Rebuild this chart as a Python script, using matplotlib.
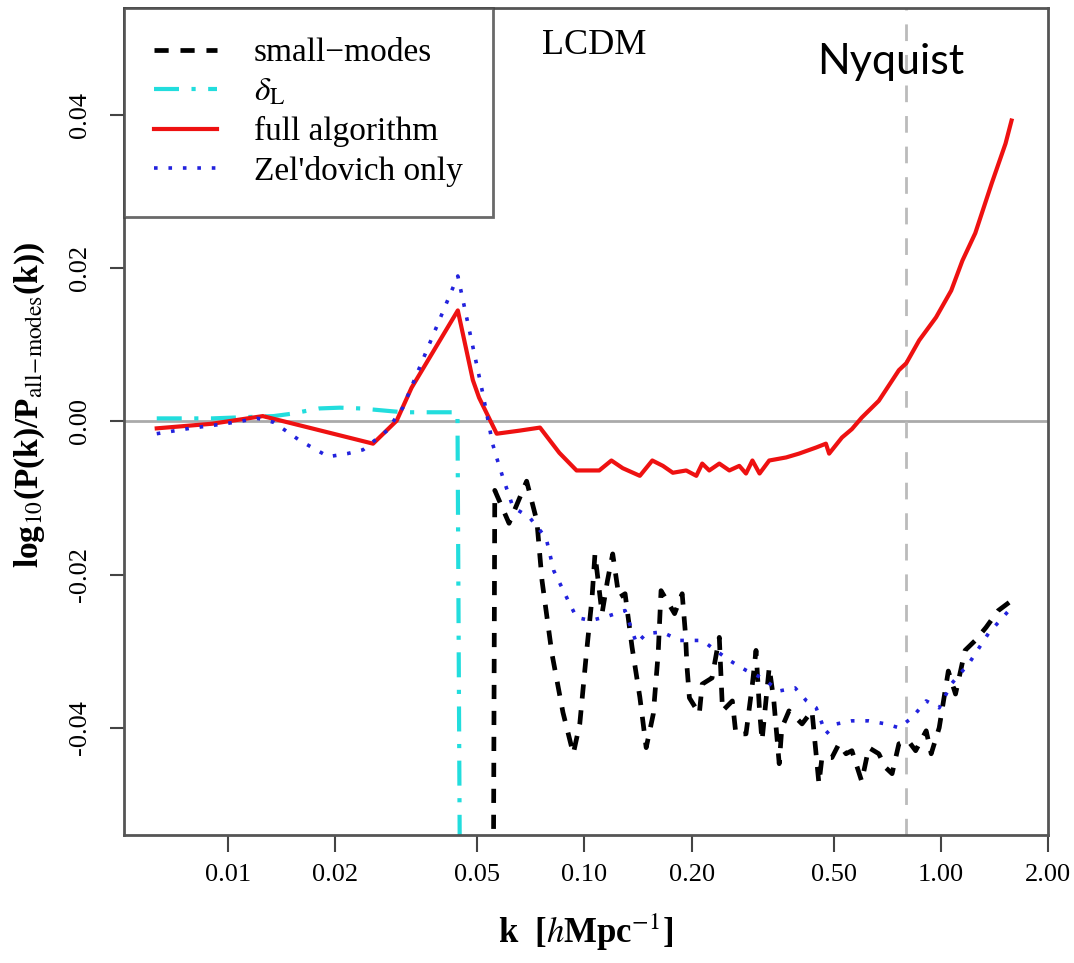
import matplotlib
matplotlib.use('Agg')
import matplotlib.pyplot as plt

plt.rcParams['font.family'] = ['Liberation Serif', 'DejaVu Serif']
plt.rcParams['mathtext.fontset'] = 'stix'

# full algorithm
k_full = [0.0063, 0.0090, 0.0125, 0.0255, 0.0297, 0.0327, 0.0441, 0.0486, 0.0506, 0.0567,
          0.0657, 0.075, 0.085, 0.095, 0.110, 0.119, 0.128, 0.143, 0.155, 0.166,
          0.177, 0.193, 0.206, 0.214, 0.224, 0.239, 0.255, 0.272, 0.284, 0.296,
          0.31, 0.33, 0.368, 0.40, 0.447, 0.476, 0.486, 0.528, 0.563, 0.60,
          0.67, 0.763, 0.80, 0.87, 0.97, 1.07, 1.15, 1.25, 1.39, 1.52, 1.58]
y_full = [-0.0009, -0.0003, 0.0007, -0.0029, 0.0001, 0.0044, 0.0145, 0.0054, 0.0031, -0.0016,
          -0.0012, -0.0008, -0.0041, -0.0064, -0.0064, -0.0051, -0.0061, -0.0071, -0.0051, -0.0058,
          -0.0067, -0.0064, -0.0071, -0.0055, -0.0064, -0.0055, -0.0064, -0.0058, -0.0068, -0.0051,
          -0.0068, -0.0051, -0.0047, -0.0042, -0.0034, -0.0029, -0.0042, -0.0021, -0.0010, 0.0005,
          0.0027, 0.0067, 0.0076, 0.0106, 0.0136, 0.0171, 0.0210, 0.0246, 0.0311, 0.0363, 0.0393]

# Zel'dovich only
k_zel = [0.0063, 0.0078, 0.0098, 0.0121, 0.0134, 0.0159, 0.0191, 0.0216, 0.0239, 0.0279,
         0.0309, 0.0441, 0.0518, 0.0552, 0.057, 0.059, 0.063, 0.070, 0.078, 0.082,
         0.090, 0.095, 0.104, 0.115, 0.130, 0.140, 0.149, 0.165, 0.185, 0.214,
         0.255, 0.284, 0.315, 0.352, 0.39, 0.42, 0.447, 0.476, 0.51, 0.563,
         0.628, 0.70, 0.763, 0.83, 0.91, 0.99, 1.07, 1.20, 1.36, 1.58]
y_zel = [-0.0016, -0.0009, -0.0003, 0.0004, -0.0001, -0.0025, -0.0046, -0.0042, -0.0037, -0.0012,
         0.0018, 0.0190, 0.0037, -0.0029, -0.0051, -0.0073, -0.0112, -0.0125, -0.0152, -0.0195,
         -0.0234, -0.0256, -0.0260, -0.0255, -0.0247, -0.0290, -0.0277, -0.0275, -0.0286, -0.0286,
         -0.0312, -0.0325, -0.0335, -0.0352, -0.0348, -0.0365, -0.0374, -0.0408, -0.0395, -0.0391,
         -0.0391, -0.0395, -0.0400, -0.0387, -0.0365, -0.0374, -0.0343, -0.0316, -0.0277, -0.0243]

# small-modes
k_small = [0.0555, 0.0560, 0.0614, 0.0688, 0.0735, 0.076, 0.081, 0.087, 0.093, 0.097,
           0.101, 0.105, 0.107, 0.112, 0.116, 0.120, 0.125, 0.130, 0.136, 0.143,
           0.149, 0.156, 0.161, 0.164, 0.179, 0.188, 0.192, 0.194, 0.197, 0.210,
           0.214, 0.228, 0.239, 0.244, 0.26, 0.266, 0.284, 0.296, 0.303, 0.31,
           0.315, 0.33, 0.34, 0.352, 0.358, 0.375, 0.408, 0.435, 0.455, 0.464,
           0.495, 0.518, 0.542, 0.563, 0.60, 0.628, 0.67, 0.70, 0.73, 0.763,
           0.81, 0.85, 0.91, 0.94, 0.99, 1.05, 1.10, 1.17, 1.25, 1.34,
           1.45, 1.58]
y_small = [-0.060, -0.0090, -0.0133, -0.0078, -0.0130, -0.0208, -0.0303, -0.0380, -0.0434, -0.0395,
           -0.0308, -0.0230, -0.0173, -0.0251, -0.0208, -0.0173, -0.0230, -0.0225, -0.0295, -0.0360,
           -0.0426, -0.0382, -0.0303, -0.0221, -0.0251, -0.0225, -0.0277, -0.0321, -0.0361, -0.0382,
           -0.0343, -0.0335, -0.0282, -0.0378, -0.0365, -0.0408, -0.0408, -0.0343, -0.0299, -0.0378,
           -0.0417, -0.0321, -0.0365, -0.0447, -0.0400, -0.0378, -0.0395, -0.0378, -0.0473, -0.0439,
           -0.0439, -0.0421, -0.0434, -0.0430, -0.0470, -0.0426, -0.0434, -0.0452, -0.0460, -0.0421,
           -0.0417, -0.0430, -0.0404, -0.0434, -0.0400, -0.0326, -0.0356, -0.0299, -0.0286, -0.0269,
           -0.0247, -0.0234]

# delta_L
k_dl = [0.0063, 0.0090, 0.0134, 0.0150, 0.018, 0.0206, 0.0235, 0.031, 0.0440, 0.0447]
y_dl = [0.0004, 0.0004, 0.0007, 0.0010, 0.0017, 0.0018, 0.0017, 0.0012, 0.0012, -0.060]

k_nyquist = 0.80
xticks = [0.01, 0.02, 0.05, 0.10, 0.20, 0.50, 1.00, 2.00]
xticklabels = ['0.01', '0.02', '0.05', '0.10', '0.20', '0.50', '1.00', '2.00']
yticks = [-0.04, -0.02, 0.00, 0.02, 0.04]
yticklabels = ['-0.04', '-0.02', '0.00', '0.02', '0.04']

fig = plt.figure(figsize=(10.74, 9.63), dpi=100)
ax = fig.add_axes([0.1155, 0.133, 0.8603, 0.8587])

ax.axhline(0, color='#aaaaaa', lw=2, zorder=1)
ax.axvline(k_nyquist, color='#bbbbbb', lw=2, ls=(0, (6, 5)), zorder=1)

ax.plot(k_small, y_small, color='black', lw=3.4, ls=(0, (3, 2.5)), label='small\u2212modes', zorder=3)
ax.plot(k_dl, y_dl, color='#22dddd', lw=3, ls=(0, (6, 3, 1, 3)), label=r'$\delta_{\rm L}$', zorder=2)
ax.plot(k_full, y_full, color='#ee1111', lw=3, label='full algorithm', zorder=4)
ax.plot(k_zel, y_zel, color='#2222dd', lw=2.6, ls=(0, (1, 3)), label="Zel'dovich only", zorder=5)

ax.set_xscale('log')
ax.set_xlim(0.0051, 2.0)
ax.set_ylim(-0.054, 0.054)
ax.set_xticks(xticks)
ax.set_xticklabels(xticklabels)
ax.minorticks_off()
ax.set_yticks(yticks)
ax.set_yticklabels(yticklabels, rotation=90, va='center')

ax.tick_params(axis='x', labelsize=19, length=12, width=1.5, pad=9, color='#444444')
ax.tick_params(axis='y', labelsize=19, length=10, width=1.5, pad=14, color='#444444')
for s in ax.spines.values():
    s.set_color('#555555')
    s.set_linewidth(2)

ax.set_xlabel(r'k  [$\mathit{h}$Mpc$^{-1}$]', fontsize=25, fontweight='bold', labelpad=18)
ax.set_ylabel(r'log$_{10}$(P(k)/P$_{\rm all\!-\!modes}$(k))', fontsize=24, fontweight='bold')
ax.yaxis.set_label_coords(-0.083, 0.52)

ax.text(0.452, 0.955, 'LCDM', transform=ax.transAxes, fontsize=26, ha='left', va='center')
ax.text(0.75, 0.935, 'Nyquist', transform=ax.transAxes, fontsize=31, ha='left', va='center',
        family=['Lato', 'DejaVu Sans'])

leg = ax.legend(loc='upper left', fontsize=24, frameon=True, fancybox=False, borderaxespad=0,
                handlelength=1.9, borderpad=0.9, labelspacing=0.26, handletextpad=1.1)
leg.get_frame().set_edgecolor('#444444')
leg.get_frame().set_linewidth(2)

fig.savefig('out.png', dpi=100)
